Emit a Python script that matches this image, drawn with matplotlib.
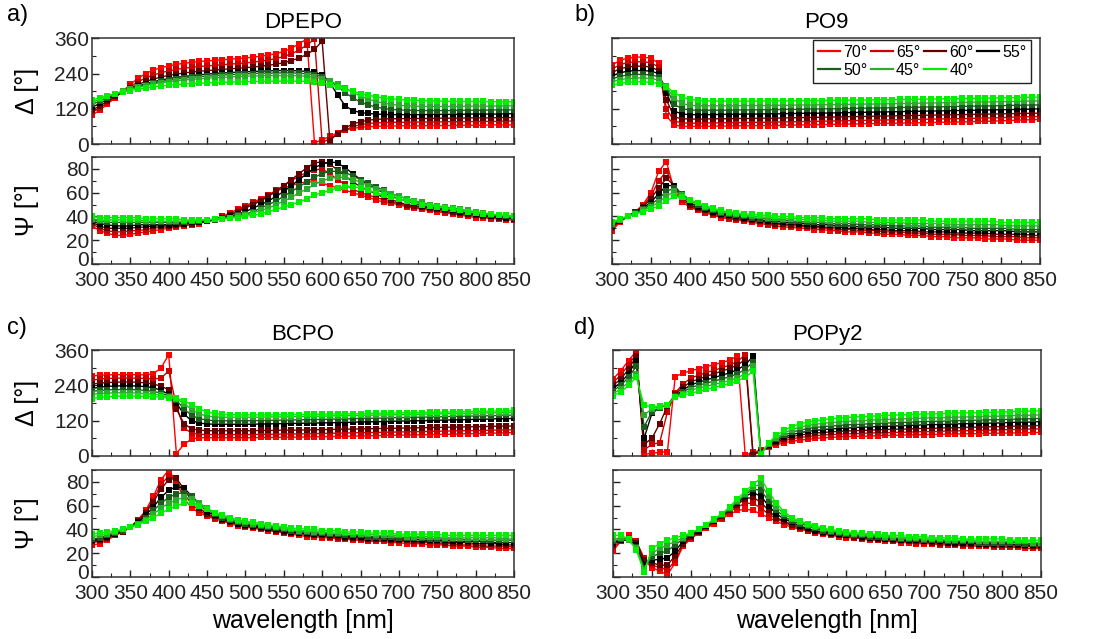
import numpy as np
import matplotlib
matplotlib.use("Agg")
import matplotlib.pyplot as plt
from matplotlib.lines import Line2D
from matplotlib.ticker import MultipleLocator
from matplotlib.transforms import ScaledTranslation

plt.rcParams['font.family'] = ['Liberation Sans', 'DejaVu Sans']

########## DATA ##########

wavelength = np.arange(300, 851, 10)
angles = ["70°", "65°", "60°", "55°", "50°", "45°", "40°"]
angle_colors = ["#ff0000", "#cc0000", "#660000", "#000000", "#1c5c1c", "#2eaa2e", "#00ee00"]
materials = ["DPEPO", "PO9", "BCPO", "POPy2"]
letters = ["a)", "b)", "c)", "d)"]

# one row per angle (70° ... 40°), wavelength 300..850 nm every 10 nm
dpepo_delta = [
    [98, 115, 135, 158, 180, 203, 224, 240, 252, 260, 266, 271, 275, 278, 281, 283, 285, 287, 289, 291,
     293, 296, 299, 303, 308, 315, 326, 342, 357, 4, 14, 26, 38, 47, 53, 57, 59, 60, 61, 61,
     62, 62, 62, 62, 63, 63, 63, 63, 64, 64, 64, 64, 65, 65, 65, 65],
    [108, 122, 140, 160, 179, 196, 212, 225, 235, 243, 249, 254, 258, 261, 264, 266, 268, 270, 272, 274,
     276, 279, 282, 286, 291, 298, 307, 320, 337, 357, 5, 18, 34, 48, 59, 66, 70, 72, 73, 74,
     74, 74, 75, 75, 75, 75, 76, 76, 76, 76, 77, 77, 77, 77, 78, 78],
    [115, 130, 145, 162, 177, 191, 203, 213, 221, 228, 234, 238, 242, 245, 248, 250, 252, 254, 256, 258,
     260, 262, 265, 268, 272, 277, 284, 293, 305, 322, 350, 12, 35, 55, 68, 76, 81, 84, 85, 86,
     86, 87, 87, 87, 87, 88, 88, 88, 88, 89, 89, 89, 89, 90, 90, 90],
    [125, 138, 152, 166, 178, 188, 197, 205, 212, 218, 223, 227, 230, 233, 236, 238, 240, 242, 243, 245,
     246, 247, 248, 249, 250, 250, 250, 249, 247, 244, 236, 208, 168, 130, 114, 107, 104, 102, 101, 100,
     100, 100, 100, 100, 101, 101, 101, 101, 101, 102, 102, 102, 102, 102, 103, 103],
    [135, 146, 157, 169, 179, 187, 195, 202, 208, 213, 217, 221, 224, 227, 229, 231, 233, 235, 236, 238,
     239, 240, 241, 241, 242, 242, 242, 241, 239, 236, 229, 215, 196, 175, 157, 143, 133, 126, 121, 118,
     116, 115, 114, 114, 114, 114, 114, 114, 115, 115, 115, 115, 116, 116, 116, 116],
    [142, 152, 162, 171, 180, 187, 193, 199, 204, 208, 212, 215, 218, 220, 222, 224, 226, 227, 228, 230,
     231, 232, 232, 233, 233, 233, 233, 232, 231, 228, 223, 214, 203, 190, 176, 163, 153, 145, 139, 135,
     132, 130, 129, 128, 128, 128, 128, 128, 128, 129, 129, 129, 129, 130, 130, 130],
    [150, 157, 164, 171, 177, 182, 187, 191, 195, 198, 200, 202, 204, 206, 207, 208, 209, 210, 211, 212,
     212, 213, 213, 214, 214, 214, 214, 214, 213, 212, 208, 202, 195, 187, 179, 172, 166, 161, 157, 154,
     152, 150, 149, 148, 147, 146, 146, 145, 145, 145, 145, 145, 144, 144, 144, 144],
]

dpepo_psi = [
    [32, 28, 26, 24, 24, 25, 26, 27, 28, 29, 30, 31, 32, 33, 34, 36, 38, 40, 43, 46,
     49, 52, 55, 58, 61, 64, 66, 68, 69, 69, 68, 66, 64, 62, 60, 58, 56, 54, 52, 51,
     50, 48, 47, 46, 45, 44, 43, 42, 41, 40, 39, 39, 38, 38, 37, 37],
    [34, 30, 28, 27, 27, 28, 28, 29, 30, 31, 31, 32, 33, 34, 35, 36, 38, 40, 42, 45,
     48, 51, 54, 58, 62, 66, 70, 74, 77, 79, 80, 76, 71, 67, 63, 60, 58, 56, 54, 52,
     51, 49, 48, 47, 46, 45, 44, 43, 42, 41, 40, 40, 39, 39, 38, 38],
    [35, 32, 30, 30, 30, 30, 31, 31, 32, 32, 32, 33, 34, 34, 35, 36, 37, 39, 41, 44,
     47, 50, 53, 57, 61, 66, 71, 76, 81, 85, 86, 84, 79, 74, 69, 65, 62, 59, 56, 54,
     52, 50, 49, 48, 47, 46, 45, 44, 43, 42, 41, 40, 40, 39, 39, 38],
    [36, 34, 33, 32, 32, 32, 33, 33, 33, 33, 33, 34, 34, 35, 35, 36, 37, 38, 40, 42,
     44, 47, 50, 53, 57, 61, 66, 71, 76, 81, 84, 86, 85, 81, 76, 71, 67, 63, 60, 57,
     55, 53, 51, 49, 48, 47, 46, 45, 44, 43, 42, 41, 40, 40, 39, 38],
    [37, 36, 35, 35, 35, 35, 35, 35, 35, 35, 35, 35, 35, 36, 36, 37, 37, 38, 39, 41,
     42, 44, 47, 50, 53, 57, 61, 65, 69, 73, 76, 78, 78, 77, 74, 71, 68, 65, 62, 59,
     57, 55, 53, 51, 50, 48, 47, 46, 45, 44, 43, 42, 41, 41, 40, 39],
    [38, 37, 37, 37, 37, 37, 37, 36, 36, 36, 36, 36, 36, 36, 37, 37, 38, 38, 39, 40,
     41, 43, 45, 47, 50, 53, 56, 60, 63, 67, 70, 72, 73, 73, 71, 69, 66, 63, 61, 59,
     57, 55, 53, 52, 50, 49, 48, 47, 46, 45, 44, 43, 42, 41, 41, 40],
    [40, 39, 39, 39, 39, 39, 39, 38, 38, 38, 38, 38, 37, 37, 37, 37, 38, 38, 39, 39,
     40, 41, 42, 44, 46, 48, 50, 52, 55, 58, 60, 62, 64, 65, 65, 64, 62, 60, 58, 56,
     55, 53, 52, 50, 49, 48, 47, 46, 45, 44, 43, 42, 42, 41, 41, 40],
]

po9_delta = [
    [268, 285, 292, 296, 296, 292, 275, 95, 65, 60, 60, 60, 60, 61, 61, 61, 62, 62, 62, 63,
     63, 63, 64, 64, 65, 65, 66, 66, 67, 67, 68, 68, 69, 69, 70, 70, 71, 71, 72, 72,
     73, 73, 74, 74, 75, 75, 76, 77, 77, 78, 79, 80, 81, 82, 83, 84],
    [255, 270, 277, 280, 280, 277, 262, 120, 78, 72, 71, 71, 72, 72, 72, 73, 73, 73, 74, 74,
     74, 75, 75, 76, 76, 77, 77, 78, 78, 79, 79, 80, 80, 81, 81, 82, 82, 83, 83, 84,
     84, 85, 85, 86, 86, 87, 87, 88, 89, 89, 90, 91, 92, 93, 93, 94],
    [243, 256, 262, 265, 265, 262, 250, 150, 92, 86, 85, 85, 85, 86, 86, 86, 87, 87, 87, 88,
     88, 88, 89, 89, 90, 90, 91, 91, 92, 92, 93, 93, 94, 94, 95, 95, 96, 96, 97, 97,
     98, 98, 99, 99, 100, 100, 101, 101, 102, 102, 103, 103, 104, 104, 105, 105],
    [232, 242, 248, 250, 250, 248, 240, 175, 112, 102, 100, 100, 100, 100, 101, 101, 101, 102, 102, 102,
     103, 103, 103, 104, 104, 105, 105, 105, 106, 106, 107, 107, 108, 108, 109, 109, 110, 110, 111, 111,
     112, 112, 113, 113, 114, 114, 115, 115, 116, 116, 117, 117, 118, 118, 119, 120],
    [222, 230, 235, 237, 237, 235, 229, 190, 135, 120, 116, 115, 115, 115, 115, 115, 116, 116, 116, 117,
     117, 117, 118, 118, 118, 119, 119, 120, 120, 120, 121, 121, 122, 122, 123, 123, 124, 124, 125, 125,
     126, 126, 127, 127, 128, 128, 129, 129, 130, 130, 131, 131, 132, 132, 133, 133],
    [212, 219, 223, 225, 225, 223, 218, 196, 155, 138, 132, 130, 130, 130, 130, 130, 130, 131, 131, 131,
     131, 132, 132, 132, 133, 133, 133, 134, 134, 134, 135, 135, 136, 136, 136, 137, 137, 138, 138, 139,
     139, 140, 140, 141, 141, 142, 142, 143, 143, 144, 144, 145, 145, 146, 146, 147],
    [200, 207, 210, 212, 212, 210, 206, 195, 175, 160, 152, 149, 147, 146, 146, 146, 146, 146, 146, 146,
     147, 147, 147, 147, 148, 148, 148, 148, 149, 149, 149, 150, 150, 150, 151, 151, 151, 152, 152, 152,
     153, 153, 154, 154, 154, 155, 155, 156, 156, 157, 157, 158, 158, 159, 159, 160],
]

po9_psi = [
    [28, 35, 40, 44, 50, 60, 78, 86, 62, 52, 48, 45, 43, 41, 39, 38, 37, 36, 35, 34,
     33, 32, 31, 31, 30, 30, 29, 29, 28, 28, 27, 27, 27, 26, 26, 25, 25, 25, 24, 24,
     24, 23, 23, 23, 22, 22, 22, 22, 21, 21, 21, 21, 20, 20, 20, 20],
    [30, 36, 40, 44, 49, 57, 70, 78, 65, 54, 49, 46, 44, 42, 40, 39, 38, 37, 36, 35,
     34, 33, 33, 32, 32, 31, 31, 30, 30, 29, 29, 29, 28, 28, 28, 27, 27, 27, 26, 26,
     26, 25, 25, 25, 25, 24, 24, 24, 24, 23, 23, 23, 23, 22, 22, 22],
    [31, 36, 40, 44, 48, 55, 64, 72, 66, 56, 50, 47, 45, 43, 41, 40, 39, 38, 37, 36,
     35, 34, 34, 33, 33, 32, 32, 31, 31, 31, 30, 30, 30, 29, 29, 29, 28, 28, 28, 28,
     27, 27, 27, 27, 26, 26, 26, 26, 26, 25, 25, 25, 25, 25, 24, 24],
    [32, 37, 40, 43, 47, 52, 59, 66, 66, 58, 52, 48, 46, 44, 42, 41, 40, 39, 38, 37,
     36, 36, 35, 35, 34, 34, 33, 33, 33, 32, 32, 32, 31, 31, 31, 31, 30, 30, 30, 30,
     30, 29, 29, 29, 29, 29, 28, 28, 28, 28, 28, 28, 27, 27, 27, 27],
    [33, 37, 40, 43, 46, 50, 55, 61, 64, 59, 54, 50, 47, 45, 43, 42, 41, 40, 39, 38,
     38, 37, 37, 36, 36, 35, 35, 35, 34, 34, 34, 34, 33, 33, 33, 33, 32, 32, 32, 32,
     32, 31, 31, 31, 31, 31, 30, 30, 30, 30, 30, 30, 29, 29, 29, 29],
    [34, 37, 40, 42, 45, 48, 52, 57, 61, 58, 54, 51, 48, 46, 44, 43, 42, 41, 40, 40,
     39, 39, 38, 38, 38, 37, 37, 37, 36, 36, 36, 36, 36, 35, 35, 35, 35, 35, 34, 34,
     34, 34, 34, 34, 33, 33, 33, 33, 33, 33, 33, 32, 32, 32, 32, 32],
    [35, 38, 40, 42, 44, 46, 49, 53, 57, 56, 54, 51, 49, 47, 45, 44, 43, 42, 42, 41,
     41, 40, 40, 40, 39, 39, 39, 39, 38, 38, 38, 38, 38, 38, 37, 37, 37, 37, 37, 37,
     37, 36, 36, 36, 36, 36, 36, 36, 36, 36, 35, 35, 35, 35, 35, 35],
]

bcpo_delta = [
    [272, 275, 276, 277, 277, 277, 277, 276, 280, 300, 345, 8, 40, 58, 62, 62, 62, 62, 62, 62,
     62, 62, 63, 63, 63, 64, 64, 64, 65, 65, 66, 66, 67, 67, 68, 68, 69, 69, 70, 70,
     71, 71, 72, 72, 73, 73, 74, 74, 75, 76, 76, 77, 78, 78, 79, 80],
    [258, 262, 264, 265, 265, 265, 265, 264, 262, 265, 290, 170, 95, 78, 74, 73, 73, 73, 73, 73,
     73, 73, 74, 74, 74, 75, 75, 75, 76, 76, 77, 77, 78, 78, 79, 79, 80, 80, 81, 81,
     82, 82, 83, 83, 84, 84, 85, 85, 86, 86, 87, 87, 88, 88, 89, 89],
    [245, 248, 250, 251, 252, 252, 251, 249, 245, 238, 225, 160, 110, 92, 88, 86, 86, 86, 86, 86,
     86, 86, 87, 87, 87, 88, 88, 88, 89, 89, 90, 90, 91, 91, 92, 92, 93, 93, 94, 94,
     95, 95, 96, 96, 97, 97, 98, 98, 99, 99, 100, 100, 101, 101, 102, 102],
    [230, 234, 237, 238, 239, 239, 238, 236, 232, 224, 210, 180, 142, 120, 112, 109, 108, 108, 108, 108,
     108, 108, 109, 109, 110, 110, 111, 111, 112, 112, 113, 113, 114, 114, 115, 116, 116, 117, 117, 118,
     119, 119, 120, 120, 121, 122, 122, 123, 123, 124, 125, 125, 126, 127, 127, 128],
    [220, 223, 225, 226, 226, 226, 225, 223, 220, 214, 205, 190, 160, 138, 127, 122, 120, 120, 120, 120,
     120, 120, 121, 121, 122, 122, 123, 123, 124, 124, 125, 125, 126, 126, 127, 128, 128, 129, 129, 130,
     131, 131, 132, 132, 133, 133, 134, 135, 135, 136, 136, 137, 137, 138, 139, 139],
    [210, 213, 214, 215, 215, 215, 214, 212, 210, 206, 202, 195, 178, 158, 143, 136, 133, 132, 132, 132,
     132, 132, 132, 133, 133, 133, 134, 134, 135, 135, 136, 136, 137, 137, 138, 138, 139, 139, 140, 140,
     141, 141, 142, 142, 143, 143, 144, 144, 145, 145, 146, 146, 147, 147, 148, 148],
    [195, 200, 202, 203, 204, 204, 204, 203, 202, 200, 198, 196, 188, 175, 160, 150, 145, 142, 141, 140,
     140, 140, 140, 140, 140, 141, 141, 141, 142, 142, 142, 143, 143, 143, 144, 144, 145, 145, 146, 146,
     147, 147, 148, 148, 149, 149, 150, 150, 151, 151, 152, 152, 153, 153, 154, 155],
]

bcpo_psi = [
    [27, 28, 31, 35, 38, 42, 48, 56, 68, 82, 90, 80, 66, 58, 54, 51, 49, 47, 45, 43,
     42, 41, 40, 39, 38, 37, 36, 35, 34, 34, 33, 33, 32, 32, 31, 31, 30, 30, 30, 29,
     29, 28, 28, 28, 27, 27, 27, 26, 26, 26, 25, 25, 25, 24, 24, 24],
    [29, 30, 32, 35, 38, 42, 48, 55, 65, 78, 85, 82, 70, 61, 56, 52, 50, 48, 46, 44,
     43, 42, 41, 40, 39, 38, 37, 36, 35, 35, 34, 34, 33, 33, 32, 32, 31, 31, 31, 30,
     30, 30, 29, 29, 29, 28, 28, 28, 27, 27, 27, 26, 26, 26, 26, 25],
    [30, 31, 33, 36, 38, 42, 47, 54, 63, 74, 82, 83, 74, 64, 58, 53, 51, 48, 46, 45,
     43, 42, 41, 40, 39, 38, 37, 37, 36, 35, 35, 34, 34, 33, 33, 33, 32, 32, 32, 31,
     31, 31, 30, 30, 30, 30, 29, 29, 29, 29, 28, 28, 28, 28, 27, 27],
    [31, 32, 34, 36, 39, 42, 46, 52, 59, 67, 73, 76, 75, 68, 61, 55, 52, 49, 47, 45,
     44, 43, 42, 41, 40, 39, 38, 37, 37, 36, 36, 35, 35, 34, 34, 34, 33, 33, 33, 32,
     32, 32, 32, 31, 31, 31, 31, 30, 30, 30, 30, 30, 29, 29, 29, 29],
    [32, 33, 35, 37, 39, 42, 45, 50, 56, 62, 67, 70, 71, 68, 62, 57, 53, 50, 48, 46,
     45, 44, 43, 42, 41, 40, 39, 38, 38, 37, 37, 36, 36, 35, 35, 35, 34, 34, 34, 34,
     33, 33, 33, 33, 32, 32, 32, 32, 32, 31, 31, 31, 31, 31, 31, 31],
    [34, 35, 36, 38, 40, 42, 45, 48, 53, 58, 62, 65, 67, 66, 62, 58, 54, 51, 49, 47,
     46, 45, 44, 43, 42, 41, 40, 39, 39, 38, 38, 37, 37, 37, 36, 36, 36, 35, 35, 35,
     35, 34, 34, 34, 34, 34, 33, 33, 33, 33, 33, 33, 33, 33, 32, 32],
    [36, 37, 38, 39, 40, 42, 44, 47, 50, 54, 57, 60, 62, 62, 60, 57, 54, 52, 50, 48,
     47, 46, 45, 44, 43, 42, 41, 41, 40, 40, 39, 39, 39, 38, 38, 38, 37, 37, 37, 37,
     36, 36, 36, 36, 36, 36, 35, 35, 35, 35, 35, 35, 35, 35, 35, 35],
]

popy2_delta = [
    [262, 290, 325, 357, 5, 10, 12, 15, 270, 282, 290, 297, 304, 311, 318, 326, 340, 3, 12, 20,
     30, 38, 45, 50, 54, 57, 60, 62, 63, 65, 66, 67, 67, 68, 69, 70, 70, 71, 72, 72,
     73, 73, 74, 74, 75, 75, 76, 76, 77, 77, 78, 78, 79, 79, 80, 80],
    [250, 275, 310, 348, 20, 40, 45, 150, 215, 245, 265, 275, 284, 292, 300, 310, 322, 345, 8, 16,
     33, 43, 52, 58, 63, 66, 69, 71, 73, 74, 75, 76, 77, 78, 79, 79, 80, 81, 81, 82,
     83, 83, 84, 85, 85, 86, 86, 87, 88, 88, 89, 90, 90, 91, 92, 92],
    [240, 262, 295, 340, 40, 60, 110, 170, 210, 235, 252, 262, 271, 280, 289, 298, 310, 328, 5, 14,
     35, 47, 58, 66, 71, 75, 78, 80, 82, 84, 85, 86, 87, 88, 89, 90, 91, 91, 92, 93,
     94, 94, 95, 96, 96, 97, 98, 98, 99, 100, 100, 101, 102, 102, 103, 104],
    [230, 250, 280, 325, 60, 145, 165, 175, 205, 225, 242, 251, 259, 267, 275, 283, 294, 310, 340, 10,
     37, 52, 64, 73, 79, 84, 87, 90, 92, 94, 95, 97, 98, 99, 100, 101, 102, 103, 104, 105,
     106, 107, 107, 108, 109, 110, 110, 111, 112, 112, 113, 114, 115, 115, 116, 117],
    [222, 240, 268, 305, 100, 150, 165, 175, 203, 218, 233, 241, 248, 255, 262, 270, 280, 295, 320, 8,
     40, 57, 71, 81, 88, 93, 97, 100, 102, 104, 106, 107, 108, 110, 111, 112, 113, 114, 115, 116,
     117, 118, 118, 119, 120, 121, 121, 122, 123, 123, 124, 125, 125, 126, 127, 128],
    [212, 228, 252, 280, 140, 160, 168, 175, 202, 212, 224, 231, 237, 244, 250, 257, 266, 280, 305, 6,
     42, 62, 78, 90, 98, 104, 108, 111, 114, 116, 118, 119, 120, 122, 123, 124, 125, 126, 127, 128,
     129, 130, 130, 131, 132, 133, 133, 134, 135, 135, 136, 137, 138, 138, 139, 140],
    [205, 218, 240, 268, 172, 168, 170, 175, 200, 207, 214, 220, 227, 233, 240, 247, 256, 268, 288, 4,
     45, 70, 88, 100, 109, 115, 120, 124, 127, 129, 131, 133, 134, 135, 137, 138, 139, 140, 141, 142,
     143, 144, 144, 145, 146, 147, 147, 148, 149, 149, 150, 151, 152, 152, 153, 154],
]

popy2_psi = [
    [22, 30, 35, 30, 14, 8, 5, 2, 12, 26, 32, 37, 41, 45, 49, 53, 56, 57, 56, 53,
     50, 47, 44, 42, 40, 39, 37, 36, 35, 34, 33, 33, 32, 31, 31, 30, 30, 29, 29, 28,
     28, 28, 27, 27, 27, 26, 26, 26, 26, 25, 25, 25, 25, 24, 24, 24],
    [25, 30, 33, 30, 16, 10, 8, 6, 14, 27, 33, 38, 42, 46, 50, 55, 59, 62, 62, 58,
     53, 49, 46, 43, 41, 39, 38, 37, 36, 35, 34, 33, 33, 32, 31, 31, 30, 30, 30, 29,
     29, 29, 28, 28, 28, 27, 27, 27, 27, 26, 26, 26, 26, 26, 25, 25],
    [27, 31, 32, 29, 14, 12, 10, 10, 18, 28, 34, 38, 43, 47, 51, 56, 61, 66, 67, 63,
     56, 50, 47, 44, 42, 40, 39, 37, 36, 35, 35, 34, 33, 33, 32, 32, 31, 31, 30, 30,
     30, 29, 29, 29, 28, 28, 28, 28, 27, 27, 27, 27, 27, 26, 26, 26],
    [29, 31, 31, 27, 10, 14, 15, 16, 22, 30, 35, 39, 43, 47, 52, 57, 62, 68, 71, 68,
     60, 53, 49, 46, 43, 41, 39, 38, 37, 36, 35, 35, 34, 33, 33, 32, 32, 31, 31, 31,
     30, 30, 30, 29, 29, 29, 29, 28, 28, 28, 28, 28, 27, 27, 27, 27],
    [30, 32, 31, 25, 8, 17, 20, 22, 27, 32, 36, 40, 44, 48, 52, 57, 63, 69, 74, 73,
     64, 56, 51, 47, 45, 43, 41, 39, 38, 37, 36, 35, 35, 34, 34, 33, 33, 32, 32, 32,
     31, 31, 31, 30, 30, 30, 30, 29, 29, 29, 29, 29, 29, 28, 28, 28],
    [32, 33, 31, 24, 6, 20, 24, 27, 30, 33, 37, 40, 44, 48, 53, 58, 64, 70, 76, 78,
     68, 59, 53, 49, 46, 44, 42, 40, 39, 38, 37, 36, 36, 35, 35, 34, 34, 33, 33, 33,
     32, 32, 32, 31, 31, 31, 31, 30, 30, 30, 30, 30, 30, 30, 29, 29],
    [35, 35, 32, 23, 4, 24, 28, 31, 33, 35, 37, 40, 44, 49, 53, 59, 66, 72, 78, 83,
     72, 62, 55, 50, 47, 45, 43, 41, 40, 39, 38, 37, 37, 36, 36, 35, 35, 35, 34, 34,
     34, 33, 33, 33, 33, 32, 32, 32, 32, 32, 32, 31, 31, 31, 31, 31],
]

delta_data = [dpepo_delta, po9_delta, bcpo_delta, popy2_delta]
psi_data = [dpepo_psi, po9_psi, bcpo_psi, popy2_psi]

########## LAYOUT ##########

fig = plt.figure(figsize=(10.94, 6.39), dpi=100)

# [left, delta bottom, psi bottom, width] in figure fraction
boxes = [
    (0.0841, 0.7746, 0.5869, 0.3857),
    (0.5594, 0.7746, 0.5869, 0.3912),
    (0.0841, 0.2864, 0.0970, 0.3857),
    (0.5603, 0.2864, 0.0970, 0.3912),
]
h_delta = 0.1655
h_psi = 0.1674
letter_pos = [(0.006, 0.976), (0.525, 0.976), (0.006, 0.487), (0.525, 0.487)]


def style_axis(ax, left_labels, bottom_labels):
    ax.set_xlim(300, 850)
    ax.xaxis.set_major_locator(MultipleLocator(50))
    ax.xaxis.set_minor_locator(MultipleLocator(25))
    ax.tick_params(which='both', direction='in', top=False, right=False,
                   labelleft=left_labels, labelbottom=bottom_labels,
                   colors='#222222', labelsize=15)
    ax.tick_params(axis='x', pad=5)
    ax.tick_params(axis='y', pad=2)
    ax.tick_params(which='major', length=5, width=1)
    ax.tick_params(which='minor', length=3, width=0.8)
    for s in ax.spines.values():
        s.set_color('#333333')
        s.set_linewidth(1.1)


psi_axes_left = []
for i in range(4):
    left, bd, bp, w = boxes[i]
    ax_d = fig.add_axes([left, bd, w, h_delta])
    ax_p = fig.add_axes([left, bp, w, h_psi])

    for k in range(len(angles)):
        ax_d.plot(wavelength, delta_data[i][k], color=angle_colors[k], lw=1.0,
                  marker='s', ms=4.6, mew=0)
        ax_p.plot(wavelength, psi_data[i][k], color=angle_colors[k], lw=1.0,
                  marker='s', ms=4.6, mew=0)

    ax_d.set_ylim(0, 360)
    ax_d.yaxis.set_major_locator(MultipleLocator(120))
    ax_d.yaxis.set_minor_locator(MultipleLocator(60))
    ax_p.set_ylim(0, 90)
    ax_p.yaxis.set_major_locator(MultipleLocator(20))
    ax_p.yaxis.set_minor_locator(MultipleLocator(10))

    left_side = (i % 2 == 0)
    style_axis(ax_d, left_side, False)
    style_axis(ax_p, left_side, True)

    if left_side:
        ax_d.set_ylabel("Δ [°]", fontsize=18)
        ax_p.set_ylabel("Ψ [°]", fontsize=18)
        ax_d.yaxis.set_label_coords(-0.125, 0.5)
        ax_p.yaxis.set_label_coords(-0.125, 0.5)
        psi_axes_left.append(ax_p)

    if i >= 2:
        ax_p.set_xlabel("wavelength [nm]", fontsize=18, labelpad=4)

    ax_d.text(0.5, 1.15, materials[i], transform=ax_d.transAxes,
              ha='center', va='center', fontsize=16)
    fig.text(letter_pos[i][0], letter_pos[i][1], letters[i], fontsize=17,
             ha='left', va='center')

    if i == 1:
        # legend fills column by column; order so rows read 70 65 60 55 / 50 45 40
        order = [0, 4, 1, 5, 2, 6, 3]
        handles = [Line2D([], [], color=angle_colors[k], lw=1.6) for k in order]
        ax_d.legend(handles, [angles[k] for k in order], ncol=4, loc='upper right',
                    bbox_to_anchor=(0.98, 0.985), borderaxespad=0,
                    fontsize=11.5, frameon=True, fancybox=False,
                    edgecolor='#222222', framealpha=1,
                    handlelength=1.4, handletextpad=0.2, columnspacing=0.2,
                    labelspacing=0.2, borderpad=0.3)

# lift the "0" of the Psi axes a little so it clears the "300" below it
for ax in psi_axes_left:
    locs = list(ax.yaxis.get_majorticklocs())
    ticks = ax.yaxis.get_major_ticks(len(locs))
    lab = ticks[locs.index(0)].label1
    lab.set_transform(lab.get_transform() + ScaledTranslation(0, 4 / 72, fig.dpi_scale_trans))

plt.savefig("out.png", dpi=100)
